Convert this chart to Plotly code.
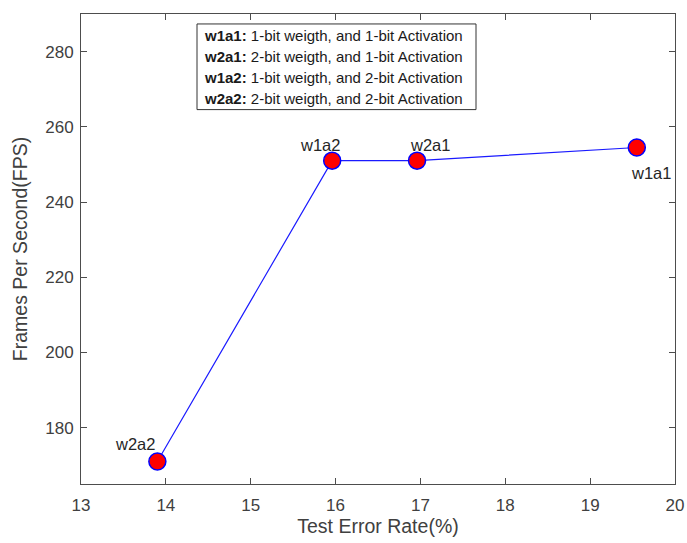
import plotly.graph_objects as go

# Quantization configs: test error (%) vs throughput (FPS)
configs = ["w2a2", "w1a2", "w2a1", "w1a1"]
error_rate = [13.9, 15.96, 16.96, 19.55]
fps = [171.0, 251.0, 251.0, 254.5]

# label offsets (px) relative to each marker
label_dx = [-22, -12, 13, 14]
label_dy = [17, 16, 16, -26]

legend_keys = ["w1a1:", "w2a1:", "w1a2:", "w2a2:"]
legend_desc = [
    "1-bit weigth, and 1-bit Activation",
    "2-bit weigth, and 1-bit Activation",
    "1-bit weigth, and 2-bit Activation",
    "2-bit weigth, and 2-bit Activation",
]

x_ticks = [13, 14, 15, 16, 17, 18, 19, 20]
y_ticks = [180, 200, 220, 240, 260, 280]

FONT = "Liberation Sans, Arial, sans-serif"
TXT = "#404040"
AX = "#4d4d4d"

fig = go.Figure()
fig.add_trace(go.Scatter(
    x=error_rate, y=fps, mode="lines+markers",
    line=dict(color="#1a1aff", width=1.2),
    marker=dict(size=17, color="#ff0000", line=dict(color="#0000ff", width=1.5)),
    hoverinfo="skip", showlegend=False,
))

annotations = []
for name, x, y, dx, dy in zip(configs, error_rate, fps, label_dx, label_dy):
    annotations.append(dict(
        x=x, y=y, xref="x", yref="y", text=name, showarrow=False,
        xshift=dx, yshift=dy, font=dict(family=FONT, size=16.5, color="#262626"),
    ))

row_y = [0.9534, 0.9089, 0.8644, 0.8199]
for key, desc, ry in zip(legend_keys, legend_desc, row_y):
    annotations.append(dict(
        x=0.2035, y=ry, xref="paper", yref="paper", xanchor="left", yanchor="middle",
        text=f"<b>{key}</b> {desc}", showarrow=False,
        font=dict(family=FONT, size=15, color="#1a1a1a"),
    ))

fig.update_layout(
    width=687, height=543,
    margin=dict(l=81, r=12, t=14, b=59),
    paper_bgcolor="white", plot_bgcolor="white",
    font=dict(family=FONT, color=TXT),
    annotations=annotations,
    shapes=[dict(type="rect", xref="paper", yref="paper",
                 x0=0.1953, x1=0.665, y0=0.7966, y1=0.9788,
                 line=dict(color="#333333", width=1), fillcolor="white", layer="below")],
    xaxis=dict(
        range=[13, 20], tickvals=x_ticks, ticks="inside", ticklen=6, tickcolor=AX,
        showline=True, linecolor=AX, linewidth=1, mirror="ticks", showgrid=False,
        zeroline=False, tickfont=dict(size=17, color=TXT), ticklabelstandoff=6,
        automargin=False,
        title=dict(text="Test Error Rate(%)", font=dict(size=19.5, color=TXT), standoff=4),
    ),
    yaxis=dict(
        range=[165, 290], tickvals=y_ticks, ticks="inside", ticklen=6, tickcolor=AX,
        showline=True, linecolor=AX, linewidth=1, mirror="ticks", showgrid=False,
        zeroline=False, tickfont=dict(size=17, color=TXT), ticklabelstandoff=3,
        automargin=False,
        title=dict(text="Frames Per Second(FPS)", font=dict(size=19.5, color=TXT), standoff=12),
    ),
)

fig.write_html("out.html")
